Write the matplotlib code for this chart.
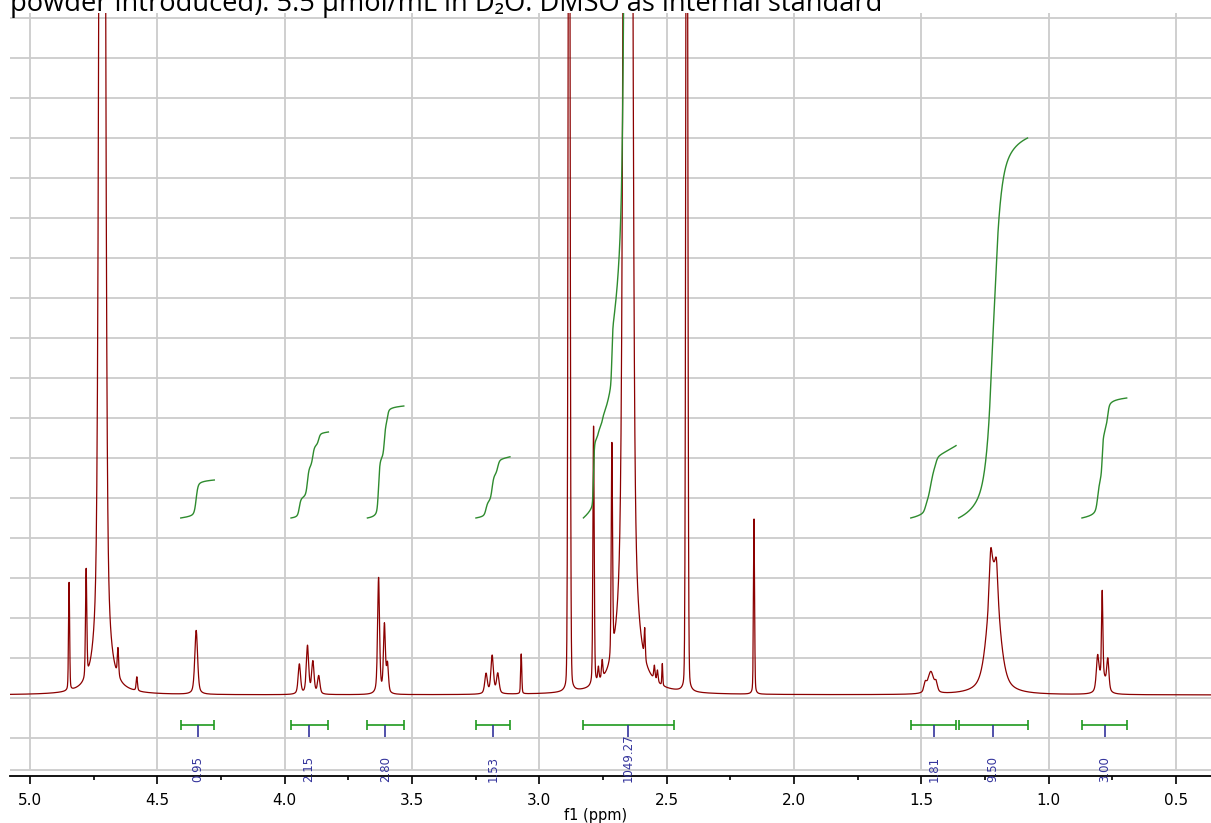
import numpy as np
import matplotlib
matplotlib.use("Agg")
import matplotlib.pyplot as plt
from matplotlib.ticker import MultipleLocator, FormatStrFormatter

# peak table (ppm, height, half width in ppm, lorentzian fraction)
peak_ppm = [4.846, 4.779, 4.716, 4.716, 4.654, 4.580, 4.347,
            3.942, 3.910, 3.889, 3.866, 3.631, 3.608, 3.596,
            3.209, 3.185, 3.163, 3.071,
            2.883, 2.787, 2.768, 2.753, 2.715, 2.652, 2.652,
            2.586, 2.548, 2.536, 2.517, 2.421, 2.157,
            1.485, 1.463, 1.442, 1.228, 1.217, 1.205,
            0.808, 0.790, 0.789, 0.768]
peak_height = [2.7, 2.7, 60.0, 0.8, 0.7, 0.35, 1.6,
               0.75, 1.2, 0.8, 0.45, 2.9, 1.7, 0.7,
               0.5, 0.95, 0.5, 1.0,
               30.0, 6.5, 0.35, 0.45, 5.3, 100.0, 3000.0,
               0.75, 0.35, 0.3, 0.55, 30.0, 4.4,
               0.2, 0.55, 0.2, 0.9, 3.1, 0.7,
               0.8, 2.1, 0.45, 0.75]
peak_width = [0.0025, 0.003, 0.0098, 0.022, 0.003, 0.003, 0.0065,
              0.0055, 0.0055, 0.0055, 0.0055, 0.0045, 0.0045, 0.0045,
              0.006, 0.006, 0.006, 0.0025,
              0.004, 0.003, 0.003, 0.003, 0.003, 0.0118, 0.0042,
              0.0025, 0.003, 0.003, 0.002, 0.004, 0.0025,
              0.006, 0.014, 0.006, 0.006, 0.0275, 0.006,
              0.006, 0.003, 0.016, 0.005]
peak_eta = [0.3, 0.3, 0.3, 0.5, 0.5, 0.5, 0.5,
            0.5, 0.5, 0.5, 0.5, 0.5, 0.5, 0.5,
            0.5, 0.5, 0.5, 0.3,
            0.1, 0.3, 0.5, 0.5, 0.3, 0.3, 0.0,
            0.3, 0.5, 0.5, 0.3, 0.1, 0.3,
            0.5, 0.5, 0.5, 0.5, 0.6, 0.5,
            0.5, 0.3, 0.5, 0.5]

# integrals
int_start = [4.408, 3.975, 3.675, 3.249, 2.827, 1.542, 1.354, 0.870]
int_end = [4.276, 3.828, 3.532, 3.115, 2.470, 1.364, 1.083, 0.694]
int_center = [4.340, 3.906, 3.604, 3.183, 2.650, 1.451, 1.218, 0.781]
int_value = [0.95, 2.15, 2.80, 1.53, 1049.27, 1.81, 9.50, 3.00]

title = "powder introduced): 5.5 \u00b5mol/mL in D\u2082O. DMSO as internal standard"

ppm = np.arange(0.36, 5.08, 0.0004)
spec = np.zeros_like(ppm)
for c, h, w, eta in zip(peak_ppm, peak_height, peak_width, peak_eta):
    u = (ppm - c) / w
    spec += h * (eta / (1 + u**2) + (1 - eta) * np.exp(-np.log(2) * u**2))

fig = plt.figure(figsize=(12.11, 8.23), dpi=100)
ax = fig.add_axes([10 / 1211, 47 / 823, 1201 / 1211, 763 / 823])
ax.set_xlim(5.078, 0.363)
ax.set_ylim(-2.025, 17.05)

# grid like the MestReNova display
for y in np.arange(16.925, -1.2, -1.0):
    ax.axhline(y, color="#cccccc", lw=1.3, zorder=0)
ax.axhline(-1.875, color="#cccccc", lw=1.3, zorder=0)
ax.vlines(np.arange(5.0, 0.4, -0.5), -1.875, 17.05, color="#cccccc", lw=1.3, zorder=0)

ax.plot(ppm, spec, color="#8b0000", lw=0.9, zorder=2)

green = "#1f9a1f"
blue = "#34349c"
for s, e, c, v in zip(int_start, int_end, int_center, int_value):
    m = (ppm <= s) & (ppm >= e)
    x = ppm[m][::-1]
    y = spec[m][::-1]
    cum = np.cumsum(y)
    ax.plot(x, 4.425 + v * cum / cum[-1], color="#2e8b2e", lw=1.0, zorder=3)
    ax.hlines(-0.75, e, s, color=green, lw=1.2, zorder=3)
    ax.vlines([s, e], -0.875, -0.625, color=green, lw=1.2, zorder=3)
    ax.vlines(c, -1.05, -0.75, color=blue, lw=1.2, zorder=3)
    ax.text(c, -2.175, f"{v:.2f}", rotation=90, ha="center", va="bottom",
            color=blue, fontsize=8.5, clip_on=False, zorder=5)

for side in ["top", "left", "right"]:
    ax.spines[side].set_visible(False)
ax.spines["bottom"].set_linewidth(1.3)
ax.set_yticks([])
ax.xaxis.set_major_locator(MultipleLocator(0.5))
ax.xaxis.set_minor_locator(MultipleLocator(0.25))
ax.xaxis.set_major_formatter(FormatStrFormatter("%.1f"))
ax.tick_params(axis="x", which="major", length=6, width=1.2, pad=6, labelsize=11)
ax.tick_params(axis="x", which="minor", length=3, width=1.2)
ax.set_xlabel("f1 (ppm)", fontsize=10.5)
ax.xaxis.set_label_coords((596 - 10) / 1201, -0.042)

# title line is cut at the top edge in the original screenshot
fig.text(10 / 1211, 1 - 11 / 823, title, fontsize=19.6, va="baseline",
         family=["Open Sans", "DejaVu Sans"])

fig.savefig("out.png", dpi=100)
